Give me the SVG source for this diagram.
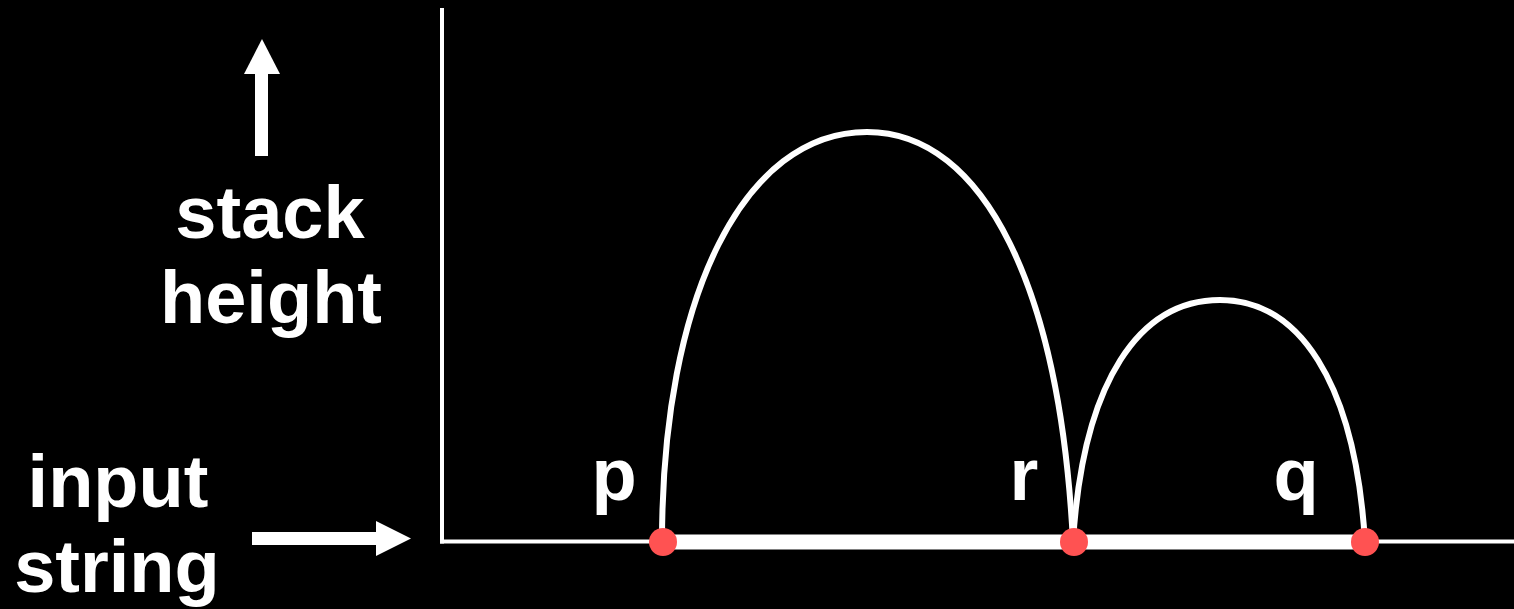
<svg xmlns="http://www.w3.org/2000/svg" width="1514" height="609" viewBox="0 0 1514 609">
<style>
.lbl{font-family:"Liberation Sans",Arial,sans-serif;font-weight:bold;font-size:74px;fill:#fff;text-anchor:middle}
.arch{fill:none;stroke:#fff;stroke-width:6}
.dot{fill:#ff5252}
</style>
<rect width="1514" height="609" fill="#000"/>
<g id="axes">
<line x1="442" y1="8" x2="442" y2="543.5" stroke="#fff" stroke-width="4"/>
<line x1="440" y1="541.5" x2="1514" y2="541.5" stroke="#fff" stroke-width="4"/>
</g>
<g id="up-arrow">
<rect x="255" y="73" width="13" height="83" fill="#fff"/>
<polygon points="244,74 280,74 262,39" fill="#fff"/>
</g>
<g id="right-arrow">
<rect x="252" y="532" width="125" height="13" fill="#fff"/>
<polygon points="376,521 376,556 411,538.5" fill="#fff"/>
</g>
<g id="axis-labels">
<text class="lbl" x="270" y="238">stack</text>
<text class="lbl" x="271" y="323">height</text>
<text class="lbl" x="118" y="507">input</text>
<text class="lbl" x="117" y="592">string</text>
</g>
<g id="connectors">
<line x1="662" y1="542" x2="1365" y2="542" stroke="#fff" stroke-width="15"/>
<path class="arch" d="M662,542 C662,296 744,132 867,132 C985,132 1060,290 1073,542"/>
<path class="arch" d="M1073,542 C1083,380 1140,300 1220,300 C1298,300 1355,380 1365,542"/>
</g>
<g id="p">
<circle class="dot" cx="663" cy="542" r="14"/>
<text class="lbl" x="614" y="500">p</text>
</g>
<g id="r">
<circle class="dot" cx="1074" cy="542" r="14"/>
<text class="lbl" x="1024" y="500">r</text>
</g>
<g id="q">
<circle class="dot" cx="1365" cy="542" r="14"/>
<text class="lbl" x="1296" y="500">q</text>
</g>
</svg>
